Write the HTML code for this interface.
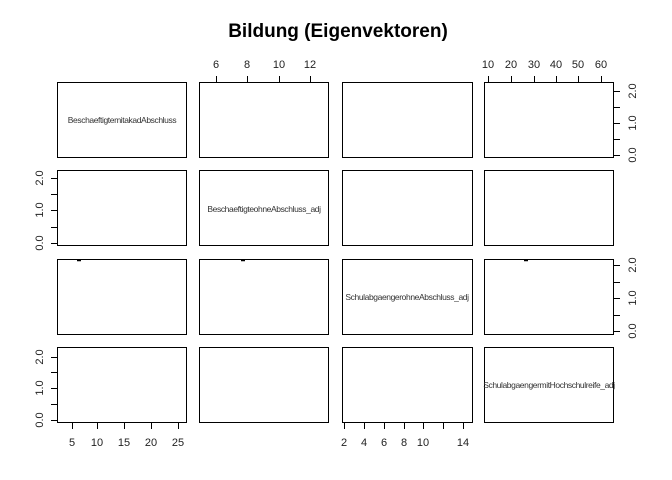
<!DOCTYPE html>
<html><head><meta charset="utf-8"><style>body{margin:0;background:#fff}svg{display:block}</style></head><body>
<svg width="672" height="480" xmlns="http://www.w3.org/2000/svg" font-family="Liberation Sans, Arial, sans-serif">
<text x="338" y="37" text-anchor="middle" font-size="19" font-weight="bold">Bildung (Eigenvektoren)</text>
<g fill="none" stroke="#000" stroke-width="1">
<rect x="57.5" y="82.5" width="129" height="75"/>
<rect x="199.5" y="82.5" width="129" height="75"/>
<rect x="342.5" y="82.5" width="130" height="75"/>
<rect x="484.5" y="82.5" width="129" height="75"/>
<rect x="57.5" y="170.5" width="129" height="75"/>
<rect x="199.5" y="170.5" width="129" height="75"/>
<rect x="342.5" y="170.5" width="130" height="75"/>
<rect x="484.5" y="170.5" width="129" height="75"/>
<rect x="57.5" y="259.5" width="129" height="75"/>
<rect x="199.5" y="259.5" width="129" height="75"/>
<rect x="342.5" y="259.5" width="130" height="75"/>
<rect x="484.5" y="259.5" width="129" height="75"/>
<rect x="57.5" y="347.5" width="129" height="75"/>
<rect x="199.5" y="347.5" width="129" height="75"/>
<rect x="342.5" y="347.5" width="130" height="75"/>
<rect x="484.5" y="347.5" width="129" height="75"/>
<path d="M216.5 82V76M247.5 82V76M279.5 82V76M310.5 82V76"/>
<path d="M488.5 82V76M511.5 82V76M534.5 82V76M556.5 82V76M578.5 82V76M601.5 82V76"/>
<path d="M614 155.5H620M614 139.5H620M614 123.5H620M614 107.5H620M614 91.5H620"/>
<path d="M614 331.5H620M614 315.5H620M614 298.5H620M614 282.5H620M614 265.5H620"/>
<path d="M57 243.5H51M57 227.5H51M57 210.5H51M57 194.5H51M57 178.5H51"/>
<path d="M57 420.5H51M57 404.5H51M57 388.5H51M57 372.5H51M57 357.5H51"/>
<path d="M72.5 423V429M97.5 423V429M124.5 423V429M151.5 423V429M178.5 423V429"/>
<path d="M344.5 423V429M364.5 423V429M384.5 423V429M404.5 423V429M423.5 423V429M443.5 423V429M463.5 423V429"/>
<path d="M77 260.5H81M241 260.5H245M524 260.5H528" stroke-width="1.5"/>
</g>
<g font-size="11" text-anchor="middle" fill="#222">
<text x="216" y="68">6</text><text x="247" y="68">8</text><text x="279" y="68">10</text><text x="310" y="68">12</text>
<text x="488" y="68">10</text><text x="511" y="68">20</text><text x="534" y="68">30</text><text x="556" y="68">40</text><text x="578" y="68">50</text><text x="601" y="68">60</text>
<text x="72" y="446">5</text><text x="97" y="446">10</text><text x="124" y="446">15</text><text x="151" y="446">20</text><text x="178" y="446">25</text>
<text x="344" y="446">2</text><text x="364" y="446">4</text><text x="384" y="446">6</text><text x="404" y="446">8</text><text x="423" y="446">10</text><text x="463" y="446">14</text>
<g transform="translate(636,155) rotate(-90)"><text x="0" y="0">0.0</text></g>
<g transform="translate(636,123) rotate(-90)"><text x="0" y="0">1.0</text></g>
<g transform="translate(636,91) rotate(-90)"><text x="0" y="0">2.0</text></g>
<g transform="translate(636,331) rotate(-90)"><text x="0" y="0">0.0</text></g>
<g transform="translate(636,298) rotate(-90)"><text x="0" y="0">1.0</text></g>
<g transform="translate(636,265) rotate(-90)"><text x="0" y="0">2.0</text></g>
<g transform="translate(43,243) rotate(-90)"><text x="0" y="0">0.0</text></g>
<g transform="translate(43,210) rotate(-90)"><text x="0" y="0">1.0</text></g>
<g transform="translate(43,178) rotate(-90)"><text x="0" y="0">2.0</text></g>
<g transform="translate(43,420) rotate(-90)"><text x="0" y="0">0.0</text></g>
<g transform="translate(43,388) rotate(-90)"><text x="0" y="0">1.0</text></g>
<g transform="translate(43,357) rotate(-90)"><text x="0" y="0">2.0</text></g>
</g>
<g font-size="8.5" text-anchor="middle" fill="#333" letter-spacing="-0.4">
<text x="122" y="123">BeschaeftigtemitakadAbschluss</text>
<text x="264" y="212">BeschaeftigteohneAbschluss_adj</text>
<text x="407" y="300">SchulabgaengerohneAbschluss_adj</text>
<text x="549" y="388">SchulabgaengermitHochschulreife_adj</text>
</g>
</svg>
</body></html>
